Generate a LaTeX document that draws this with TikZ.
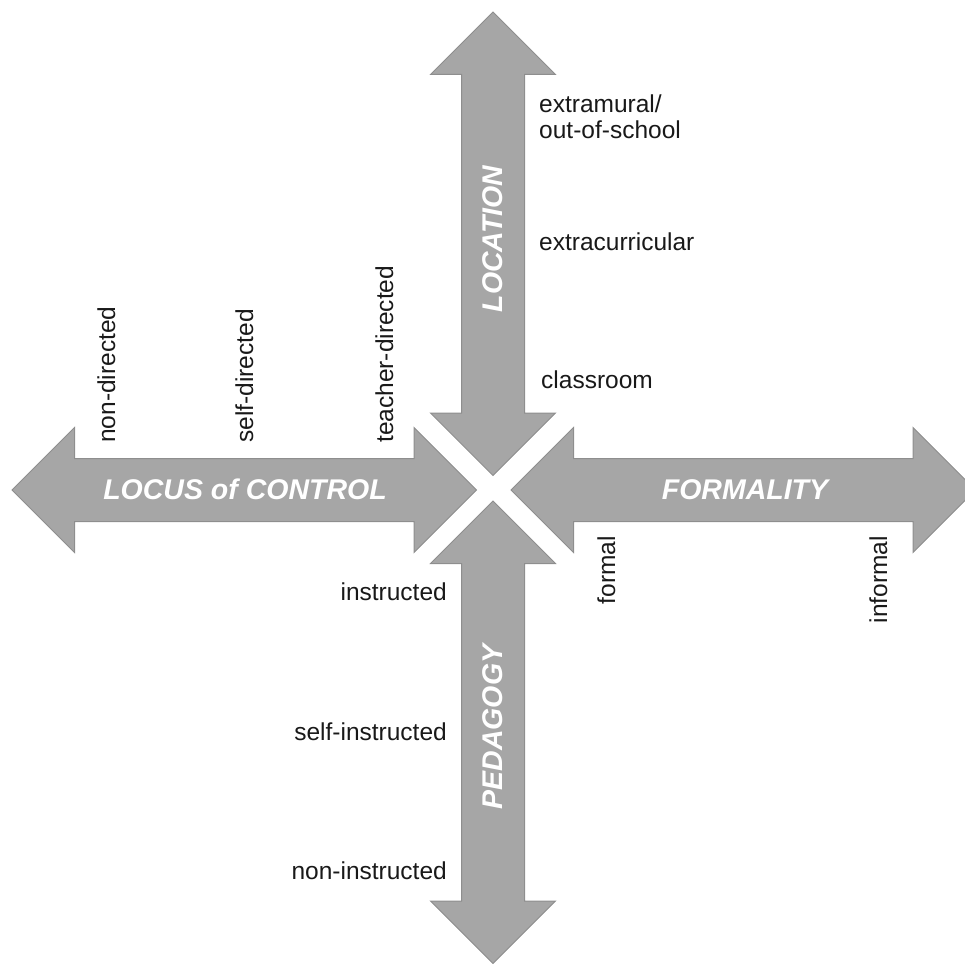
\documentclass[tikz,border=0pt]{standalone}
\usepackage{fontspec}
\setmainfont{Liberation Sans}
\definecolor{arrowfill}{RGB}{166,166,166}
\definecolor{arrowedge}{RGB}{142,142,142}
\definecolor{labtext}{RGB}{25,25,25}
\begin{document}
\begin{tikzpicture}[x=1pt,y=-1pt,
  bigarrow/.style={fill=arrowfill,draw=arrowedge,line width=1pt,line join=miter},
  axislabel/.style={inner sep=0pt,text=white,font=\fontsize{28.5}{32}\selectfont\bfseries\itshape},
  lab/.style={inner sep=0pt,text=labtext,font=\fontsize{24.5}{25}\selectfont}]
\useasboundingbox (0,0) rectangle (965,963);
\begin{scope}
\clip (0,0) rectangle (965,963);
% LOCATION (vertical, upper)
\draw[bigarrow] (493,12) -- (555.5,74.5) -- (524.5,74.5) -- (524.5,413) -- (555.5,413)
  -- (493,475.5) -- (430.5,413) -- (461.5,413) -- (461.5,74.5) -- (430.5,74.5) -- cycle;
% PEDAGOGY (vertical, lower)
\draw[bigarrow] (493,501) -- (555.5,563.5) -- (524.5,563.5) -- (524.5,901) -- (555.5,901)
  -- (493,963.5) -- (430.5,901) -- (461.5,901) -- (461.5,563.5) -- (430.5,563.5) -- cycle;
% LOCUS of CONTROL (horizontal, left)
\draw[bigarrow] (12,490) -- (74.5,427.5) -- (74.5,458.5) -- (414,458.5) -- (414,427.5)
  -- (476.5,490) -- (414,552.5) -- (414,521.5) -- (74.5,521.5) -- (74.5,552.5) -- cycle;
% FORMALITY (horizontal, right)
\draw[bigarrow] (511,490) -- (573.5,427.5) -- (573.5,458.5) -- (913,458.5) -- (913,427.5)
  -- (975.5,490) -- (913,552.5) -- (913,521.5) -- (573.5,521.5) -- (573.5,552.5) -- cycle;
\end{scope}
% axis titles
\node[axislabel,rotate=90] (tloc) at (493,239) {LOCATION};
\node[axislabel,rotate=90] (tped) at (493,727) {PEDAGOGY};
\node[axislabel] (tloc2) at (245,489) {LOCUS of CONTROL};
\node[axislabel] (tfor) at (745,490) {FORMALITY};
% location labels
\node[lab,anchor=base west,align=left] (extra) at (539,138) {extramural/\\out-of-school};
\node[lab,anchor=base west] (curr) at (539,250) {extracurricular};
\node[lab,anchor=base west] (class) at (541,388) {classroom};
% pedagogy labels
\node[lab,anchor=base east] (instr) at (447,600) {instructed};
\node[lab,anchor=base east] (self) at (447,740) {self-instructed};
\node[lab,anchor=base east] (non) at (447,879) {non-instructed};
% locus labels
\node[lab,rotate=90,anchor=base west] (nond) at (115,443) {non-directed};
\node[lab,rotate=90,anchor=base west] (selfd) at (253,443) {self-directed};
\node[lab,rotate=90,anchor=base west] (teach) at (393,443) {teacher-directed};
% formality labels
\node[lab,rotate=90,anchor=base east] (formal) at (615,536) {formal};
\node[lab,rotate=90,anchor=base east] (informal) at (887,536) {informal};
\end{tikzpicture}
\end{document}
